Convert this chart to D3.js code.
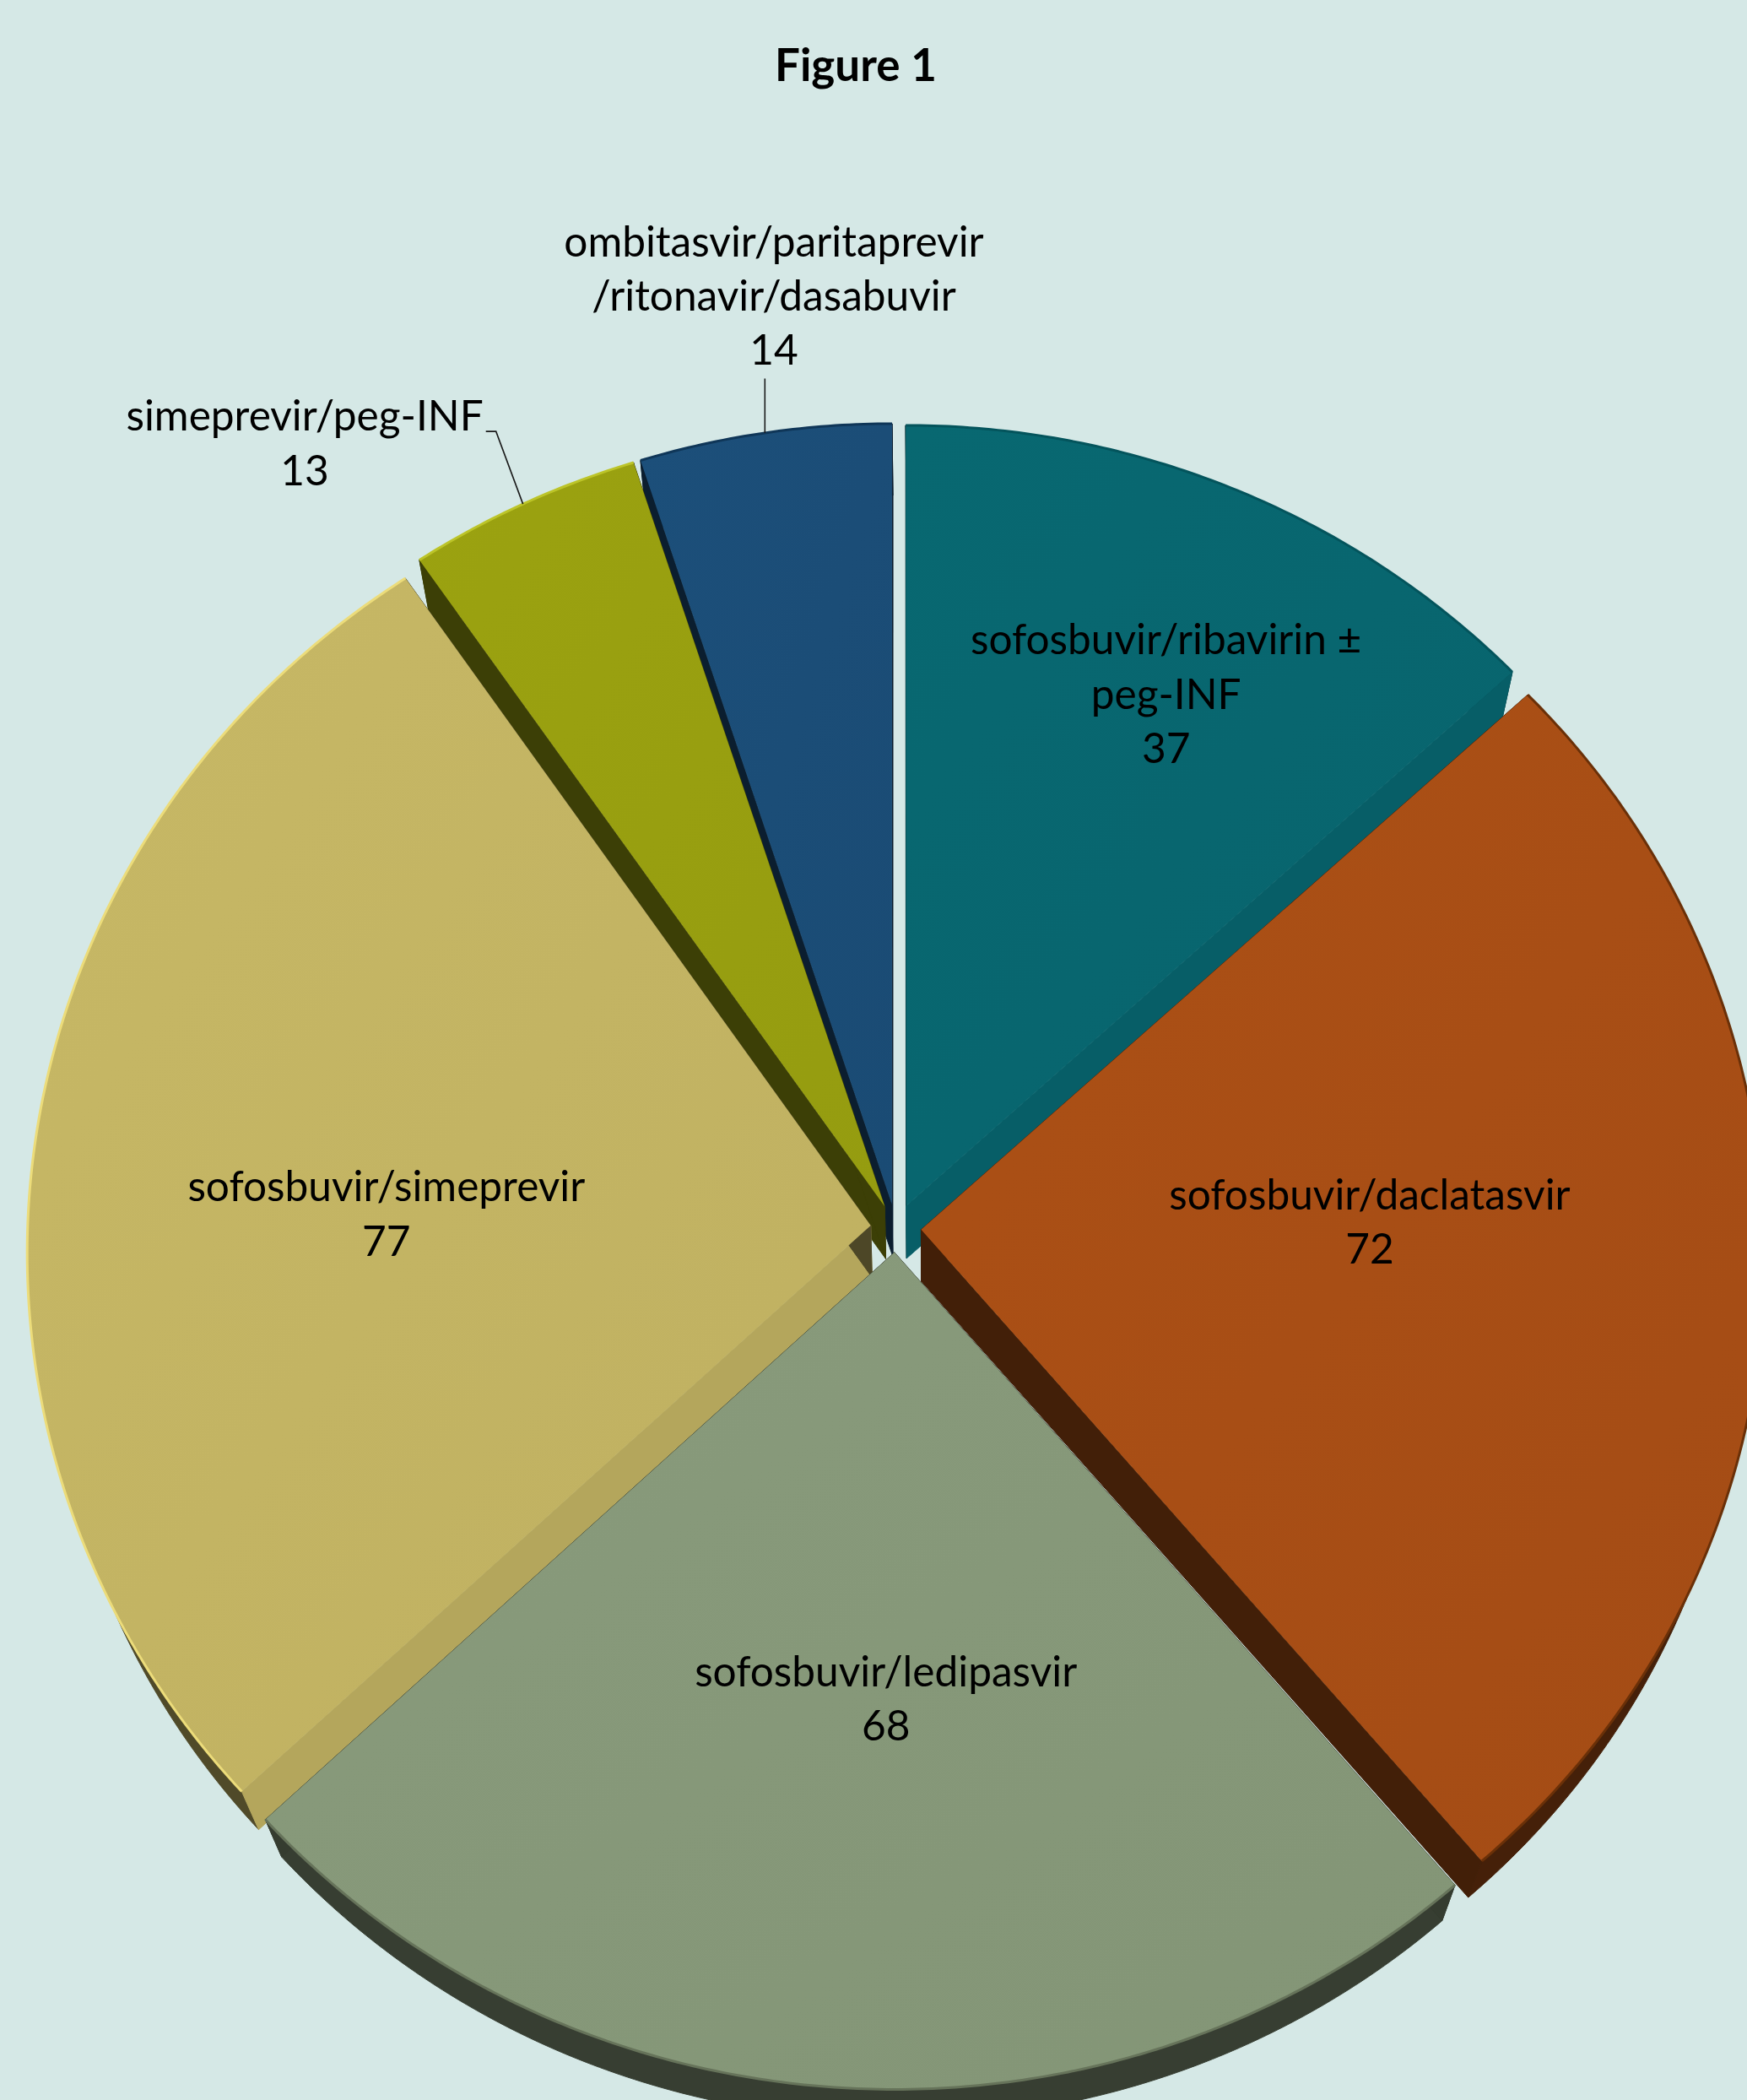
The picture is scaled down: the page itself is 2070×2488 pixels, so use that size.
<!DOCTYPE html>
<html>
<head>
<meta charset="utf-8">
<script src="https://cdn.jsdelivr.net/npm/d3@7"></script>
<style>
  html, body { margin: 0; padding: 0; background: #d5e8e6; }
  svg { display: block; }
</style>
</head>
<body>
<script>
// ---------------- data ----------------
const categories = [
  "sofosbuvir/ribavirin ± peg-INF",
  "sofosbuvir/daclatasvir",
  "sofosbuvir/ledipasvir",
  "sofosbuvir/simeprevir",
  "simeprevir/peg-INF",
  "ombitasvir/paritaprevir/ritonavir/dasabuvir"
];
const labelLines = [
  ["sofosbuvir/ribavirin ±", "peg-INF"],
  ["sofosbuvir/daclatasvir"],
  ["sofosbuvir/ledipasvir"],
  ["sofosbuvir/simeprevir"],
  ["simeprevir/peg-INF"],
  ["ombitasvir/paritaprevir", "/ritonavir/dasabuvir"]
];
const values = [37, 72, 68, 77, 13, 14];
const titleText = "Figure 1";

// ---------------- styles / layout ----------------
const colors = ["#08666f", "#a84e15", "#869879", "#c3b463", "#989f10", "#1b4d77"];
const rimColors = ["#04545c", "#6a3008", "#66735a", "#ecdc7a", "#bcc428", "#0f3658"];
// label placement: polar offset (deg clockwise from north, px) from the slice tip
const labelPolar = [
  {a: 26.9, d: 681}, {a: 88.9, d: 531.6}, {a: 181.1, d: 528},
  {a: 271.5, d: 574}, {a: 322.8, d: 1136.5}, {a: 352.6, d: 1086}
];
const outsideLabel = [false, false, false, false, true, true];

const W = 2070, H = 2488;
const bg = "#d5e8e6";
const fontFamily = "Lato, 'Open Sans', 'DejaVu Sans', sans-serif";

const svg = d3.select("body").append("svg")
  .attr("width", W).attr("height", H)
  .attr("viewBox", `0 0 ${W} ${H}`);
svg.append("rect").attr("width", W).attr("height", H).attr("fill", bg);

// ---------------- 3D-ish projection ----------------
const R = 999, explode = 30;
const cx = 1061.5, cy = 1455;
const persp = 0.033, squash = 0.958;
const Lp = R / persp;
function P(p) { const s = 1 / (1 - p[1] / Lp); return [cx + p[0] * s, cy + p[1] * s * squash]; }
const V = [1101, 3955], kDepth = 0.9754;
function B(q) { return [V[0] + kDepth * (q[0] - V[0]), V[1] + kDepth * (q[1] - V[1])]; }
const dir = a => [Math.sin(a), -Math.cos(a)];
const rScale = d3.scaleLinear().domain([0, 1]).range([0, R]);

const pie = d3.pie().sort(null).value(d => d).startAngle(0).endAngle(2 * Math.PI)(values);

const slices = pie.map((d, i) => {
  const m = (d.startAngle + d.endAngle) / 2;
  const o = dir(m).map(v => v * explode);
  const n = Math.max(4, Math.ceil((d.endAngle - d.startAngle) / (Math.PI / 360)));
  const arcPts = d3.range(n + 1).map(j => {
    const a = d.startAngle + (d.endAngle - d.startAngle) * j / n;
    const u = dir(a);
    return [o[0] + rScale(1) * u[0], o[1] + rScale(1) * u[1]];
  });
  return {d, i, m, o, arcPts, tip: P(o)};
});

const closed = d3.line().curve(d3.curveLinearClosed);
const open = d3.line();
function wallPoly(ptsPie) {
  const top = ptsPie.map(P);
  const bot = top.map(B).reverse();
  return top.concat(bot);
}
const deg = r => ((r * 180 / Math.PI) % 360 + 360) % 360;

// ---------------- walls (sides) ----------------
const wallG = svg.append("g");
slices.slice().sort((a, b) => a.tip[1] - b.tip[1]).forEach(s => {
  const c = colors[s.i];
  const n = s.arcPts.length - 1;
  wallG.append("path").attr("d", closed(wallPoly(s.arcPts)))
    .attr("fill", d3.color(c).darker(2.5)).attr("stroke", d3.color(c).darker(2.5)).attr("stroke-width", 1);
  [[s.arcPts[0], s.d.startAngle - Math.PI / 2], [s.arcPts[n], s.d.endAngle + Math.PI / 2]].forEach(([p, nAng]) => {
    const f = deg(nAng);
    const col = (f > 90 && f < 180) ? d3.color(c).darker(0.22) : d3.color(c).darker(2.6);
    wallG.append("path").attr("d", closed(wallPoly([s.o, p])))
      .attr("fill", col).attr("stroke", col).attr("stroke-width", 1);
  });
});

// ---------------- top faces ----------------
const defs = svg.append("defs");
slices.forEach(s => {
  const c = d3.color(colors[s.i]);
  const g = defs.append("linearGradient").attr("id", "g" + s.i)
    .attr("x1", "0").attr("y1", "0").attr("x2", "1").attr("y2", "1");
  g.append("stop").attr("offset", "0").attr("stop-color", c.brighter(0.06));
  g.append("stop").attr("offset", "1").attr("stop-color", c.darker(0.06));
});
const topG = svg.append("g");
slices.forEach(s => {
  const pts = [s.tip].concat(s.arcPts.map(P));
  topG.append("path").attr("d", closed(pts)).attr("fill", `url(#g${s.i})`);
  topG.append("path").attr("d", open(s.arcPts.map(P)))
    .attr("fill", "none").attr("stroke", rimColors[s.i]).attr("stroke-width", 3);
});

// ---------------- labels ----------------
const probe = svg.append("text").attr("font-family", fontFamily).attr("font-size", 100).text("sofosbuvir/simeprevir");
const labelSize = 100 * 471 / probe.node().getComputedTextLength();
probe.remove();
const lineH = labelSize * 1.3;

const labelG = svg.append("g").attr("font-family", fontFamily).attr("font-size", labelSize)
  .attr("fill", "#000").attr("text-anchor", "middle");
slices.forEach(s => {
  const lp = labelPolar[s.i];
  const a = lp.a * Math.PI / 180;
  const x = s.tip[0] + lp.d * Math.sin(a);
  const yc = s.tip[1] - lp.d * Math.cos(a);
  const lines = labelLines[s.i].concat([String(values[s.i])]);
  const nL = lines.length;
  const baselines = lines.map((t, j) => yc + 0.37 * labelSize + (j - (nL - 1) / 2) * lineH);
  const texts = lines.map((t, j) => labelG.append("text").attr("x", x).attr("y", baselines[j]).text(t));
  if (outsideLabel[s.i]) {
    const u = dir(s.m);
    const edge = P([s.o[0] + R * u[0], s.o[1] + R * u[1]]);
    let pts;
    if (s.i === 5) {
      pts = [[edge[0], baselines[nL - 1] + 16], edge];
    } else {
      const w = texts[0].node().getComputedTextLength();
      const right = x + w / 2;
      pts = [[right + 3, baselines[0] + 1], [right + 15, baselines[0] + 1], edge];
    }
    svg.append("path").attr("d", open(pts)).attr("fill", "none")
      .attr("stroke", "#1a1a1a").attr("stroke-width", 1.6);
  }
});

// ---------------- title ----------------
const tprobe = svg.append("text").attr("font-family", fontFamily).attr("font-weight", 700)
  .attr("font-size", 100).text(titleText);
const titleSize = 100 * 192 / tprobe.node().getComputedTextLength();
tprobe.remove();
svg.append("text").attr("x", 1014).attr("y", 96)
  .attr("font-family", fontFamily).attr("font-weight", 700).attr("font-size", titleSize)
  .attr("text-anchor", "middle").attr("fill", "#000").text(titleText);
</script>
</body>
</html>
